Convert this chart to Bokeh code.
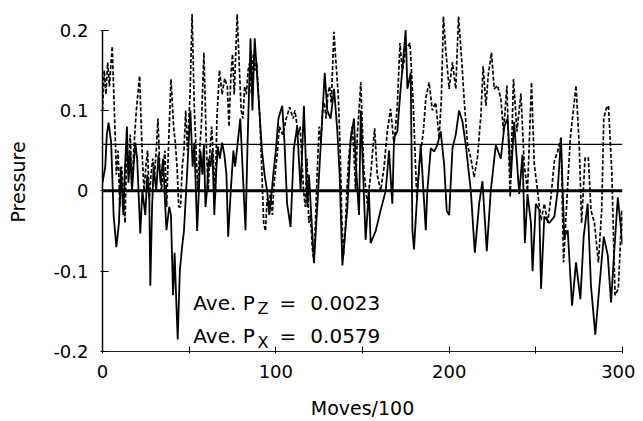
from bokeh.plotting import figure
from bokeh.models import Range1d, FixedTicker, Span, Label
from bokeh.embed import file_html
from bokeh.resources import INLINE

# ---- data ----
pz_x = [0, 1.6, 2.5, 3.5, 5, 6.4, 8, 9.5, 10.6, 12, 13, 14.1, 15, 16, 17, 18.9, 20, 21.8, 23, 24.7,
        25.8, 27, 27.6, 28.6, 29.5, 31, 32.3, 33.5, 35, 36.2, 36.9, 38.5, 39.5, 40.7, 41.6, 42.6, 43.4,
        44.6, 45.9, 47, 48, 49, 50.7, 52, 53, 54.6, 55.6, 56.5, 57.6, 58.5, 59.4, 60.3, 61.2, 62.3,
        63.4, 64.5, 65.5, 66.5, 67.7, 69, 70.3, 71.5, 72.5, 74, 75.5, 76.5, 78, 79.5, 81, 82.5, 83.7,
        85.4, 86.5, 87.8, 89, 90.5, 92, 93.5, 95, 96.2, 97.3, 98.5, 100, 101.5, 103.7, 105, 106.5,
        108.5, 110.4, 112.3, 114.3, 116.2, 118.2, 119.1, 122, 123.9, 125.9, 128.2, 129.7, 131.6,
        133.6, 135.5, 136.8, 138.4, 141.3, 143.2, 145.1, 146, 148, 149, 151.8, 153.7, 154.7, 157.6,
        160.5, 163.4, 165.3, 167.2, 168.2, 170.1, 172, 174, 174.9, 175.9, 177.8, 178.8, 179.7, 181.7,
        183.6, 186.5, 187.4, 189.4, 191.3, 193.2, 195.1, 197.1, 198.6, 200, 201.9, 203.8, 205.7,
        207.7, 209.6, 212.5, 214.8, 217.3, 219.2, 221.7, 224, 226.9, 229.8, 231.8, 233.7, 235.6,
        237.5, 240.4, 242.3, 243.7, 245.2, 247.2, 248.1, 250, 252, 253, 254.9, 257.8, 260.7, 262.6,
        264.5, 266.4, 268.4, 270.9, 273.2, 275.7, 277.6, 279.9, 281.8, 284.3, 286.7, 289.2, 291.5,
        293.4, 295.3, 297.3, 299.2, 300]
pz_y = [0.01, 0.03, 0.07, 0.085, 0.06, -0.03, -0.07, -0.04, 0.03, -0.03, 0.03, 0.08, 0.01, 0.05, 0.0,
        0.06, 0.04, -0.053, 0.0, -0.03, 0.02, -0.01, -0.118, -0.02, 0.03, 0.0, 0.045, 0.01, 0.04,
        -0.02, -0.049, -0.02, -0.03, -0.13, -0.077, -0.14, -0.185, -0.1, -0.07, -0.05, -0.01, 0.03,
        0.1, 0.03, 0.06, -0.05, 0.0, 0.05, 0.02, 0.058, -0.02, 0.0, 0.04, 0.03, 0.05, -0.03, 0.02,
        0.055, 0.04, 0.06, 0.045, 0.02, -0.057, 0.0, 0.05, 0.03, 0.06, 0.09, 0.02, -0.049, 0.06,
        0.19, 0.1, 0.19, 0.15, 0.1, 0.05, 0.02, 0.0, -0.03, -0.01, 0.02, 0.05, 0.09, 0.106, 0.06,
        -0.016, -0.045, 0.053, 0.08, 0.0, 0.106, -0.02, 0.02, -0.089, -0.02, 0.057, 0.147, 0.1,
        0.09, 0.127, 0.074, 0.02, -0.093, -0.02, 0.065, 0.09, 0.04, -0.03, 0.1, -0.061, 0.0,
        -0.065, -0.05, -0.024, 0.0, 0.05, -0.016, 0.066, 0.074, 0.127, 0.176, 0.2, 0.127, 0.147,
        -0.049, -0.073, 0.0, 0.057, -0.049, 0.0, 0.053, 0.049, 0.057, 0.074, 0.033, -0.025, -0.03,
        0.053, 0.07, 0.1, 0.086, 0.057, 0.0, -0.077, -0.016, 0.012, -0.075, 0.0, 0.057, 0.04, 0.08,
        0.09, 0.016, 0.086, -0.004, 0.045, -0.065, -0.004, -0.04, -0.1, -0.016, -0.024, -0.122,
        -0.032, -0.04, -0.032, 0.0, 0.066, -0.057, -0.049, -0.143, -0.089, -0.135, -0.057, -0.016,
        -0.118, -0.179, -0.118, -0.057, -0.08, -0.139, -0.073, -0.008, -0.049, -0.067]

px_x = [0, 1, 2, 3, 4, 5.6, 7, 8, 9, 10, 11, 12, 13, 14, 15, 16, 17, 18, 19.5, 21.4, 23, 24, 25, 26,
        27, 28, 29, 30, 31, 32, 33, 34, 35, 36, 37, 38, 39.5, 41, 42, 43, 44, 45, 46, 47, 48, 49,
        50.5, 51.7, 53, 54, 55, 56, 57, 58.5, 60, 61, 62, 63, 64, 65, 66, 67.5, 69, 70.5, 72, 73, 74,
        75, 76, 77.7, 79, 80, 81, 82, 83, 84, 85, 86, 87, 88, 89, 90, 91, 92, 93, 94, 95, 96, 97, 98,
        99, 100, 101, 102, 104, 106, 108, 110, 111, 113, 114, 115, 116, 117, 118, 119, 120, 121, 122,
        123, 124, 125, 126, 127, 128, 129, 130, 131, 132, 133.5, 135, 136, 137, 138, 139, 140, 141,
        142, 143, 144, 145, 146, 147, 148, 149, 150.8, 152.8, 154.7, 157, 158.5, 160.5, 162.4, 164.3,
        166.2, 168.2, 170.1, 171.6, 173, 174.9, 177.4, 179.3, 181.3, 183.2, 185.1, 186.5, 188.4,
        190.3, 192.2, 194.2, 195.5, 196.7, 198, 200, 201.9, 203.8, 205.4, 207.1, 208.6, 210.6, 212.5,
        214.4, 216.3, 218.3, 219.6, 221.2, 222.5, 224.4, 226, 227.9, 229.8, 231.4, 233.3, 235.2,
        237.1, 239.1, 241.4, 243.3, 245.2, 247.5, 249.1, 251, 253, 254.9, 256.8, 258.7, 260.7, 262.6,
        264.5, 266, 268, 269.9, 273.2, 275.1, 276.4, 278.4, 280.3, 281.8, 283.8, 286.1, 288, 289.2,
        290.5, 291.9, 293.8, 295.7, 297.6, 299.6, 300]
px_y = [0.1, 0.15, 0.12, 0.16, 0.13, 0.18, 0.09, 0.02, 0.05, -0.02, 0.03, 0.0, -0.04, 0.06, 0.02,
        0.07, 0.0, 0.05, 0.1, 0.143, 0.04, 0.0, 0.03, 0.05, -0.01, 0.02, 0.04, 0.02, 0.05, 0.09, 0.03,
        0.0, 0.03, 0.05, -0.02, 0.05, 0.139, 0.08, 0.06, 0.03, -0.02, -0.02, 0.03, 0.05, 0.1, 0.05,
        0.12, 0.22, 0.1, 0.05, 0.0, 0.05, 0.08, 0.172, 0.05, 0.0, 0.05, 0.08, 0.04, -0.01, 0.09, 0.15,
        0.12, 0.14, 0.13, 0.08, 0.14, 0.17, 0.12, 0.22, 0.15, 0.1, 0.09, 0.13, 0.12, 0.15, 0.16, 0.12,
        0.17, 0.15, 0.16, 0.12, 0.08, 0.02, -0.04, -0.05, -0.01, -0.02, 0.0, -0.03, 0.01, 0.03, 0.05,
        0.08, 0.07, 0.09, 0.104, 0.09, 0.1, 0.07, 0.08, 0.04, 0.0, -0.02, 0.04, -0.04, -0.03, -0.07,
        -0.09, -0.03, 0.03, 0.08, 0.06, 0.1, 0.11, 0.09, 0.12, 0.13, 0.11, 0.198, 0.15, 0.12, 0.06,
        -0.03, -0.081, -0.05, 0.0, 0.04, 0.06, 0.08, 0.05, 0.0, 0.07, 0.1, 0.135, 0.025, -0.016, 0.02,
        0.078, 0.02, 0.0, 0.029, 0.074, 0.102, 0.057, 0.106, 0.184, 0.147, 0.176, 0.184, 0.106,
        -0.008, 0.041, 0.074, 0.115, 0.135, 0.1, 0.11, 0.066, 0.115, 0.217, 0.176, 0.127, 0.16, 0.127,
        0.217, 0.167, 0.115, 0.057, 0.041, 0.017, 0.041, 0.094, 0.155, 0.106, 0.143, 0.172, 0.127,
        0.131, 0.115, 0.074, 0.131, -0.008, 0.139, 0.074, 0.121, 0.033, 0.0, 0.135, 0.033, 0.0,
        -0.037, -0.016, -0.04, -0.008, 0.037, 0.049, 0.066, -0.089, -0.008, 0.066, 0.131, 0.053,
        -0.04, 0.041, 0.041, -0.024, -0.04, -0.089, -0.024, 0.09, 0.102, 0.106, 0.025, -0.13, -0.122,
        -0.024, -0.05]

avg_pz = 0.0023
avg_px = 0.0579
zero_level = 0.0

x_ticks = [0, 100, 200, 300]
x_minor_ticks = [50, 150, 250]
y_ticks = [-0.2, -0.1, 0, 0.1, 0.2]
y_tick_labels = ["-0.2", "-0.1", "0", "0.1", "0.2"]

FONT = "DejaVu Sans"

p = figure(width=635, height=421, output_backend="svg", toolbar_location=None,
           x_range=Range1d(0, 300), y_range=Range1d(-0.2, 0.222),
           min_border_left=102, min_border_right=13, min_border_top=12, min_border_bottom=65)
p.outline_line_color = None
p.xgrid.grid_line_color = None
p.ygrid.grid_line_color = None
p.background_fill_color = "white"
p.border_fill_color = "white"

# reference lines
p.add_layout(Span(location=zero_level, dimension="width", line_color="black", line_width=3))
p.add_layout(Span(location=avg_px, dimension="width", line_color="black", line_width=1.3))

# series
p.line(px_x, px_y, line_color="black", line_width=1.7, line_dash="4 2")
p.line(pz_x, pz_y, line_color="black", line_width=1.8)

# axes
xa = p.xaxis[0]
xa.ticker = FixedTicker(ticks=x_ticks, minor_ticks=x_minor_ticks)
xa.axis_label = "Moves/100"
xa.axis_label_text_font = FONT
xa.axis_label_text_font_size = "19px"
xa.axis_label_text_font_style = "normal"
xa.axis_label_text_color = "black"
xa.axis_label_standoff = 16
xa.major_label_text_font = FONT
xa.major_label_text_font_size = "18px"
xa.major_label_text_color = "black"
xa.major_label_standoff = 11
xa.major_tick_in = 5
xa.major_tick_out = 2
xa.minor_tick_in = 5
xa.minor_tick_out = 2
xa.major_tick_line_color = "black"
xa.minor_tick_line_color = "black"
xa.axis_line_width = 1
xa.axis_line_color = "#222222"

ya = p.yaxis[0]
ya.ticker = FixedTicker(ticks=y_ticks)
ya.major_label_overrides = {t: s for t, s in zip(y_ticks, y_tick_labels)}
ya.bounds = (-0.2, 0.2)
ya.axis_label = "Pressure"
ya.axis_label_text_font = FONT
ya.axis_label_text_font_size = "19px"
ya.axis_label_text_font_style = "normal"
ya.axis_label_text_color = "black"
ya.axis_label_standoff = 21
ya.major_label_text_font = FONT
ya.major_label_text_font_size = "18px"
ya.major_label_text_color = "black"
ya.major_label_standoff = 12
ya.major_tick_in = 6
ya.major_tick_out = 2
ya.major_tick_line_color = "black"
ya.minor_tick_line_color = None
ya.axis_line_width = 1.5
ya.axis_line_color = "black"

# annotation text
def lab(x, y, text, size):
    p.add_layout(Label(x=x, y=y, text=text, text_font=FONT, text_font_size=size,
                       text_baseline="alphabetic", text_align="left", text_color="black"))

lab(52.4, -0.1395, "Ave. P", "20px")
lab(89.4, -0.1469, "Z", "16px")
lab(102.1, -0.1395, "=", "20px")
lab(119.9, -0.1395, "0.0023", "20px")
lab(52.4, -0.1811, "Ave. P", "20px")
lab(89.4, -0.1885, "X", "16px")
lab(102.1, -0.1811, "=", "20px")
lab(119.9, -0.1811, "0.0579", "20px")

open("out.html", "w").write(file_html(p, INLINE))
